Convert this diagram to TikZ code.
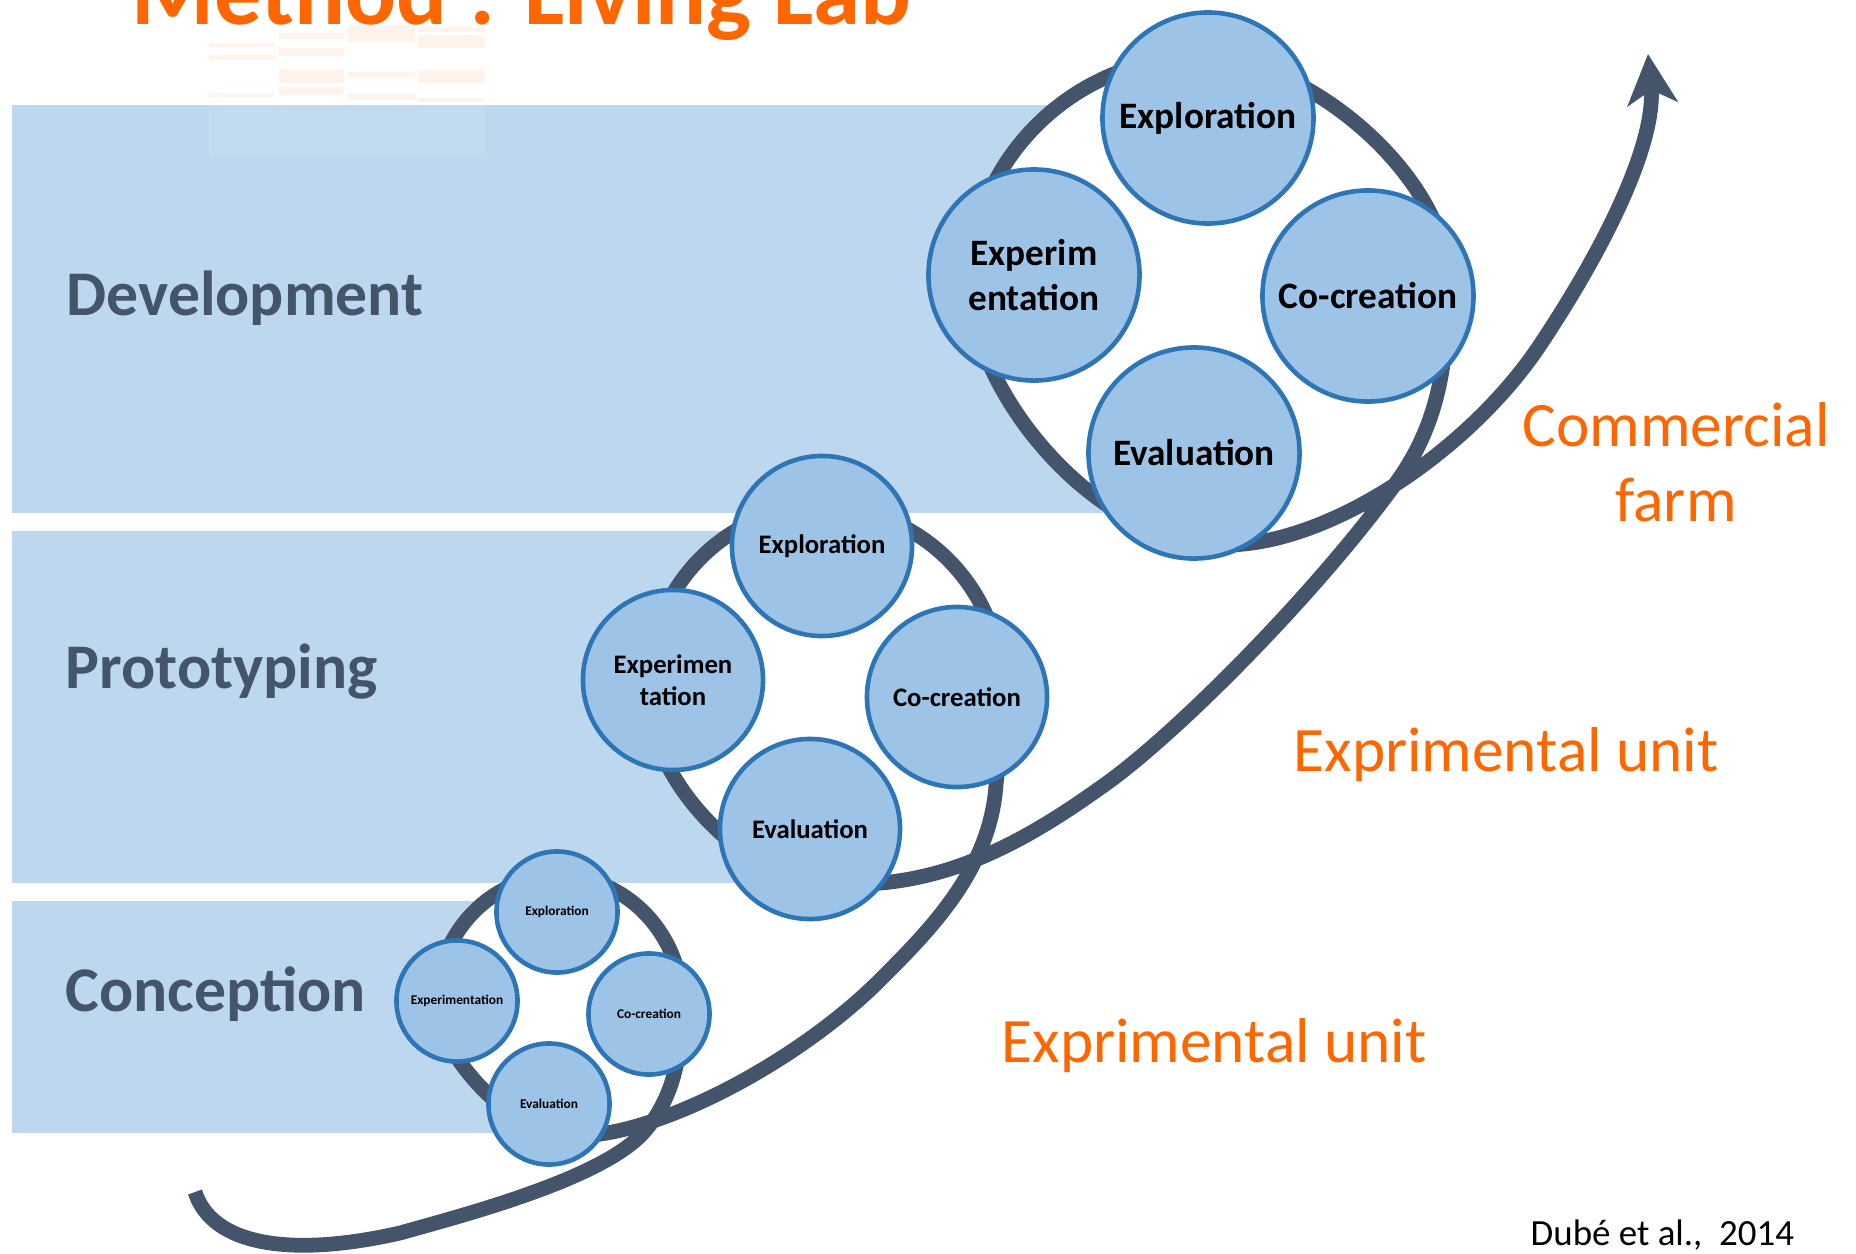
\documentclass[tikz,border=0pt]{standalone}
\usepackage{fontspec}
\setmainfont{Carlito}
\usepackage{tikz}
\usetikzlibrary{arrows.meta,positioning}
\definecolor{bandblue}{HTML}{BDD7EE}
\definecolor{ballfill}{HTML}{9DC3E6}
\definecolor{balledge}{HTML}{2E75B6}
\definecolor{slate}{HTML}{44546A}
\definecolor{livingorange}{HTML}{FF6600}

\begin{document}
\begin{tikzpicture}[x=0.01cm, y=-0.01cm,
    band/.style={fill=bandblue},
    ball/.style={circle, draw=balledge, fill=ballfill, line width=1.3pt, inner sep=0pt, align=center},
    smallball/.style={ball, minimum size=1.21cm, font=\bfseries\fontsize{3.8}{4.5}\selectfont},
    midball/.style={ball, minimum size=1.80cm, font=\bfseries\fontsize{7.6}{9.1}\selectfont},
    bigball/.style={ball, minimum size=2.11cm, font=\bfseries\fontsize{10.6}{12.6}\selectfont},
    stage/.style={anchor=base west, inner sep=0pt, text=slate, font=\bfseries\fontsize{18.1}{22}\selectfont},
    orangelabel/.style={inner sep=0pt, text=livingorange, font=\fontsize{18}{21}\selectfont}]
  \useasboundingbox (0,0) rectangle (1856,1254);

  % bands
  \fill[band] (12,105) rectangle (1106,513);
  \fill[band] (12,531) rectangle (735,883);
  \fill[band] (12,901) rectangle (500,1133);

  % faded table under the title
  \fill[white, opacity=0.1] (209,20) rectangle (485,155);
  \foreach \xa/\ya/\xb/\yb in {209/43/274/47, 209/55/274/60, 209/93/274/97,
      279/33/344/39, 279/48/344/56, 279/69/344/83, 279/87/344/95,
      348/25/415/42, 348/72/415/77, 348/93/415/100,
      418/27/485/32, 418/35/485/48, 418/70/485/83, 418/98/485/102}
    \fill[livingorange, opacity=0.08] (\xa,\ya) rectangle (\xb,\yb);

  \node[anchor=base west, inner sep=0pt, text=livingorange, font=\bfseries\fontsize{27}{32}\selectfont] (title) at (131,24) {Method : Living Lab};

  % points of the spiral
  \coordinate (start) at (195,1192);
  \coordinate (cX) at (643,1133);
  \coordinate (cE) at (682,1005);
  \coordinate (cN) at (558,876);
  \coordinate (cW) at (436,1005);
  \coordinate (cS) at (575,1136);
  \coordinate (pX) at (996,785);
  \coordinate (pE) at (1002,690);
  \coordinate (pN) at (822,507);
  \coordinate (pW) at (647,690);
  \coordinate (pS) at (840,884);
  \coordinate (dX) at (1393,487);
  \coordinate (dE) at (1448,280);
  \coordinate (dN) at (1200,57);
  \coordinate (dW) at (970,282);
  \coordinate (dS) at (1225,545);
  \coordinate (tip) at (1648,54);

  % inside of the loops
  \fill[white] (cX) .. controls (675,1098) and (682,1050) .. (cE)
    .. controls (682,934) and (626,876) .. (cN)
    .. controls (491,876) and (436,934) .. (cW)
    .. controls (436,1045) and (505,1136) .. (cS) -- cycle;
  \fill[white] (pX) .. controls (1000,750) and (1002,725) .. (pE)
    .. controls (1002,589) and (921,507) .. (pN)
    .. controls (725,507) and (647,589) .. (pW)
    .. controls (647,775) and (740,884) .. (pS) -- cycle;
  \fill[white] (dX) .. controls (1440,425) and (1448,360) .. (dE)
    .. controls (1448,180) and (1310,57) .. (dN)
    .. controls (1075,57) and (970,160) .. (dW)
    .. controls (970,390) and (1095,545) .. (dS) -- cycle;

  % spiral
  \draw[slate, line width=4.2pt, -{Stealth[length=5mm, width=5mm, inset=1.4mm]}]
    (start) .. controls (212,1245) and (290,1258) .. (400,1233)
    .. controls (460,1216) and (600,1180) .. (cX)
    .. controls (675,1098) and (682,1050) .. (cE)
    .. controls (682,934) and (626,876) .. (cN)
    .. controls (491,876) and (436,934) .. (cW)
    .. controls (436,1045) and (505,1136) .. (cS)
    .. controls (660,1136) and (800,1060) .. (880,980)
    .. controls (930,930) and (990,870) .. (pX)
    .. controls (1000,750) and (1002,725) .. (pE)
    .. controls (1002,589) and (921,507) .. (pN)
    .. controls (725,507) and (647,589) .. (pW)
    .. controls (647,775) and (740,884) .. (pS)
    .. controls (940,888) and (1020,845) .. (1100,788)
    .. controls (1170,740) and (1310,600) .. (dX)
    .. controls (1440,425) and (1448,360) .. (dE)
    .. controls (1448,180) and (1310,57) .. (dN)
    .. controls (1075,57) and (970,160) .. (dW)
    .. controls (970,390) and (1095,545) .. (dS)
    .. controls (1330,545) and (1470,450) .. (1540,345)
    .. controls (1610,240) and (1656,140) .. (tip);

  % conception
  \node[smallball] (cexplo) at (557,912) {Exploration};
  \node[smallball] (cexper) at (457,1001) {Experimentation};
  \node[smallball] (ccocre) at (649,1014) {Co-creation};
  \node[smallball] (ceval) at (549,1104) {Evaluation};

  % prototyping
  \node[midball] (pexplo) at (822,546) {Exploration};
  \node[midball] (pexper) at (673,680) {Experimen\\tation};
  \node[midball] (pcocre) at (957,697) {Co-creation};
  \node[midball] (peval) at (810,829) {Evaluation};

  % development
  \node[bigball] (dexplo) at (1208,118) {Exploration};
  \node[bigball] (dexper) at (1034,275) {Experim\\entation};
  \node[bigball] (dcocre) at (1368,296) {Co-creation};
  \node[bigball] (deval) at (1194,453) {Evaluation};

  \node[stage] (development) at (66,315) {Development};
  \node[stage] (prototyping) at (65,688) {Prototyping};
  \node[stage] (conception) at (65,1011) {Conception};

  \node[orangelabel, anchor=base] (commercial) at (1676,446) {Commercial};
  \node[orangelabel, anchor=base] (farm) at (1676,521) {farm};
  \node[orangelabel, anchor=base west] (unittop) at (1293,771) {Exprimental unit};
  \node[orangelabel, anchor=base west] (unitlow) at (1001,1062) {Exprimental unit};

  \node[anchor=base west, inner sep=0pt, font=\fontsize{10.5}{12}\selectfont] (source) at (1530,1245) {Dubé et al.,\ \ 2014};
\end{tikzpicture}
\end{document}
